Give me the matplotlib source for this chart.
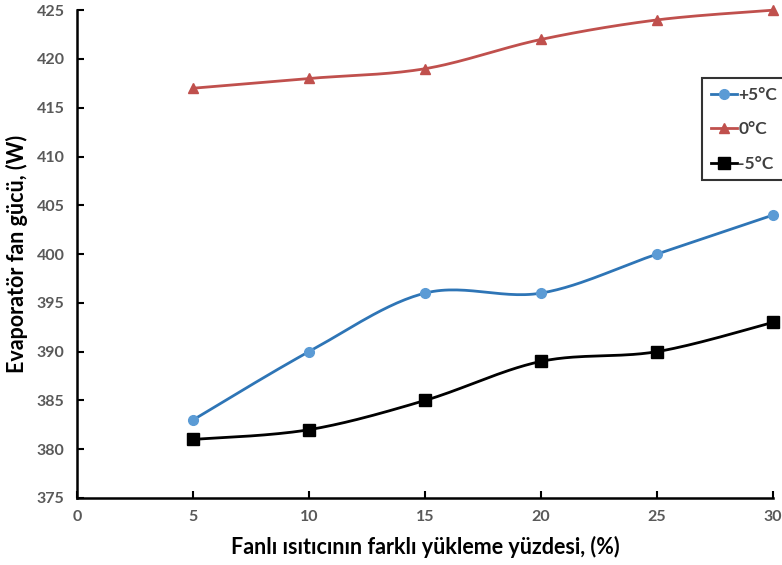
import numpy as np
import matplotlib.pyplot as plt

plt.rcParams['font.family'] = ['Lato', 'DejaVu Sans']

x = [5, 10, 15, 20, 25, 30]
plus5 = [383, 390, 396, 396, 400, 404]
zero = [417, 418, 419, 422, 424, 425]
minus5 = [381, 382, 385, 389, 390, 393]


def smooth(xs, ys, n=30):
    # Excel-like smoothed line: cubic Bezier segments, tangents from neighbours
    xs = np.asarray(xs, float)
    ys = np.asarray(ys, float)
    px, py = [], []
    for i in range(len(xs) - 1):
        i0 = max(i - 1, 0)
        i3 = min(i + 2, len(xs) - 1)
        p0 = np.array([xs[i], ys[i]])
        p3 = np.array([xs[i + 1], ys[i + 1]])
        c1 = p0 + (p3 - np.array([xs[i0], ys[i0]])) / 6
        c2 = p3 - (np.array([xs[i3], ys[i3]]) - p0) / 6
        t = np.linspace(0, 1, n)[:, None]
        b = (1 - t) ** 3 * p0 + 3 * (1 - t) ** 2 * t * c1 + 3 * (1 - t) * t ** 2 * c2 + t ** 3 * p3
        px.extend(b[:, 0])
        py.extend(b[:, 1])
    return px, py


fig = plt.figure(figsize=(7.82, 5.65), dpi=100)
ax = fig.add_axes([0.0985, 0.1186, 0.89, 0.8634])

series = [
    (plus5, '+5°C', '#2E75B6', '#5B9BD5', 'o', 7),
    (zero, '0°C', '#C0504D', '#C0504D', '^', 7),
    (minus5, '-5°C', 'black', 'black', 's', 8),
]
for ys, lab, lc, mc, mk, ms in series:
    sx, sy = smooth(x, ys)
    ax.plot(sx, sy, color=lc, lw=2, clip_on=False, zorder=2)
    ax.plot(x, ys, ls='none', marker=mk, ms=ms, color=mc, clip_on=False, zorder=3)
    ax.plot([], [], color=lc, lw=2, marker=mk, ms=ms, mfc=mc, mec=mc, label=lab)

ax.set_xlim(0, 30)
ax.set_ylim(375, 425)
ax.set_xticks(range(0, 31, 5))
ax.set_yticks(range(375, 426, 5))
for s in ['top', 'right']:
    ax.spines[s].set_visible(False)
for s in ['left', 'bottom']:
    ax.spines[s].set_linewidth(1.8)
ax.tick_params(direction='in', length=5, width=1.5, labelsize=11.5, labelcolor='#595959', pad=9)
for lbl in ax.get_xticklabels() + ax.get_yticklabels():
    lbl.set_fontweight('bold')

ax.set_xlabel('Fanlı ısıtıcının farklı yükleme yüzdesi, (%)', fontsize=15.5, fontweight='bold', labelpad=8)
ax.set_ylabel('Evaporatör fan gücü, (W)', fontsize=15.5, fontweight='bold', labelpad=6)

leg = ax.legend(loc='upper left', bbox_to_anchor=(0.898, 0.86), frameon=True, fancybox=False,
                edgecolor='black', fontsize=12.5, handlelength=1.5, handletextpad=0.1,
                labelspacing=1.05, borderpad=0.5, borderaxespad=0)
leg.get_frame().set_linewidth(1.5)
for t in leg.get_texts():
    t.set_fontweight('bold')
    t.set_color('#404040')

fig.savefig('out.png', dpi=100)
